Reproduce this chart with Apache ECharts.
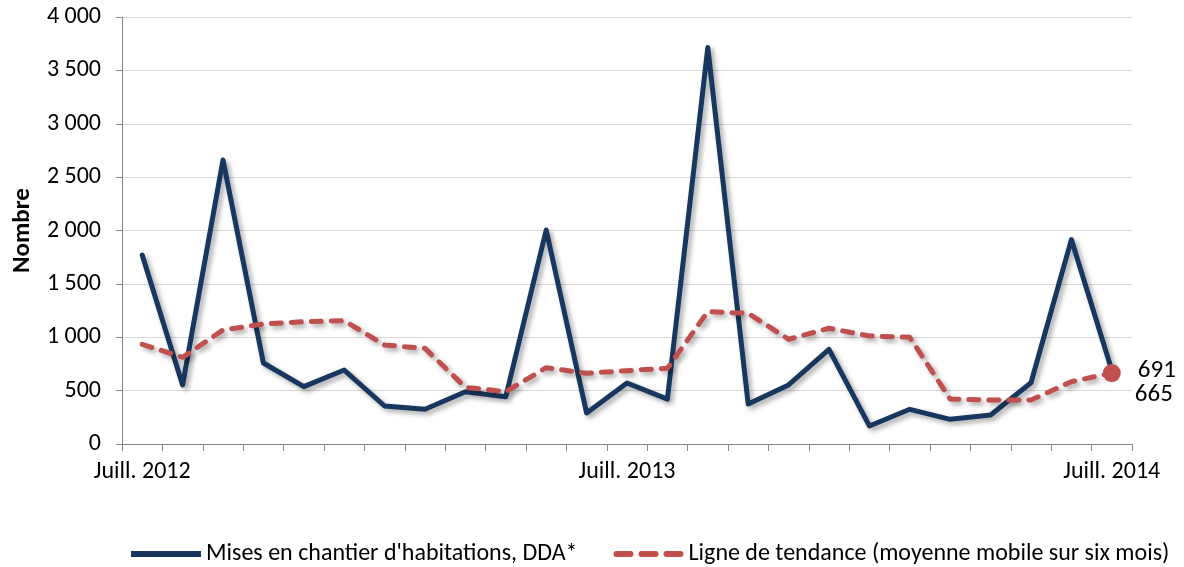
<!DOCTYPE html>
<html>
<head>
<meta charset="utf-8">
<script src="https://cdn.jsdelivr.net/npm/echarts@6/dist/echarts.min.js"></script>
<style>
  html, body { margin: 0; padding: 0; background: #fff; }
  #chart { width: 1184px; height: 567px; }
</style>
</head>
<body>
<div id="chart"></div>
<script>
// mois de juillet 2012 à juillet 2014
const months = [
  'Juill. 2012', 'Août 2012', 'Sept. 2012', 'Oct. 2012', 'Nov. 2012', 'Déc. 2012',
  'Janv. 2013', 'Févr. 2013', 'Mars 2013', 'Avr. 2013', 'Mai 2013', 'Juin 2013',
  'Juill. 2013', 'Août 2013', 'Sept. 2013', 'Oct. 2013', 'Nov. 2013', 'Déc. 2013',
  'Janv. 2014', 'Févr. 2014', 'Mars 2014', 'Avr. 2014', 'Mai 2014', 'Juin 2014',
  'Juill. 2014'
];

// mises en chantier, DDA
const starts = [
  1770, 553, 2660, 759, 537, 693, 356, 325, 490, 443, 2005, 290,
  571, 420, 3715, 375, 553, 887, 169, 325, 231, 272, 574, 1915, 691
];

// moyenne mobile sur six mois
const trend = [
  934, 812, 1068, 1124, 1146, 1155, 927, 896, 531, 490, 715, 662,
  687, 709, 1240, 1224, 981, 1084, 1012, 999, 421, 412, 412, 584, 665
];

const FONT = 'Carlito, Lato, sans-serif';
const BLUE = '#17375e';
const RED = '#c0504d';

const shadow = {
  shadowColor: 'rgba(0,0,0,0.35)',
  shadowBlur: 5,
  shadowOffsetX: 3,
  shadowOffsetY: 3
};

const NAME_1 = "Mises en chantier d'habitations, DDA*";
const NAME_2 = 'Ligne de tendance (moyenne mobile sur six mois)';

const last = months.length - 1;

const chart = echarts.init(document.getElementById('chart'), null, { renderer: 'canvas' });

chart.setOption({
  animation: false,
  textStyle: { fontFamily: FONT },
  grid: { left: 122, right: 52, top: 17, bottom: 123 },
  legend: {
    left: 126,
    top: 537,
    itemWidth: 70,
    itemHeight: 6,
    itemGap: 36,
    textStyle: { fontFamily: FONT, fontSize: 24, color: '#000' },
    data: [
      { name: NAME_1, icon: 'path://M0,0 H70 V6 H0 Z', itemStyle: { color: BLUE } },
      { name: NAME_2, icon: 'path://M3,0 H17 A3,3 0 0 1 17,6 H3 A3,3 0 0 1 3,0 Z M28,0 H42 A3,3 0 0 1 42,6 H28 A3,3 0 0 1 28,0 Z M53,0 H67 A3,3 0 0 1 67,6 H53 A3,3 0 0 1 53,0 Z', itemStyle: { color: RED } }
    ]
  },
  xAxis: {
    type: 'category',
    data: months,
    boundaryGap: true,
    axisLine: { lineStyle: { color: '#868686', width: 1 } },
    axisTick: { show: true, length: 7, interval: 0, lineStyle: { color: '#868686' } },
    axisLabel: {
      interval: (i) => i % 12 === 0,
      margin: 16,
      color: '#000',
      fontSize: 24,
      fontFamily: FONT
    },
    splitLine: { show: false }
  },
  yAxis: {
    type: 'value',
    min: 0,
    max: 4000,
    interval: 500,
    name: 'Nombre',
    nameLocation: 'middle',
    nameGap: 87,
    nameTextStyle: { fontFamily: FONT, fontSize: 25, fontWeight: 'bold', color: '#000' },
    axisLine: { show: true, lineStyle: { color: '#868686' } },
    axisTick: { show: true, length: 6, lineStyle: { color: '#868686' } },
    axisLabel: {
      margin: 21,
      color: '#000',
      fontSize: 24,
      fontFamily: FONT,
      formatter: (v) => String(v).replace(/\B(?=(\d{3})+(?!\d))/g, ' ')
    },
    splitLine: { lineStyle: { color: '#d9d9d9', width: 1 } }
  },
  series: [
    {
      name: NAME_1,
      type: 'line',
      symbol: 'none',
      z: 3,
      data: starts,
      endLabel: {
        show: true,
        formatter: '{c}',
        distance: 26,
        offset: [0, 1],
        fontSize: 25,
        fontFamily: FONT,
        color: '#000'
      },
      lineStyle: Object.assign({ color: BLUE, width: 5, join: 'round', cap: 'round' }, shadow),
      itemStyle: { color: BLUE }
    },
    {
      name: NAME_2,
      type: 'line',
      symbol: 'none',
      z: 4,
      data: trend.map((v, i) => i === last ? {
        value: v,
        symbol: 'circle',
        symbolSize: 18,
        itemStyle: { color: RED },
        label: {
          show: true,
          position: 'right',
          distance: 14,
          offset: [0, 22],
          fontSize: 25,
          fontFamily: FONT,
          color: '#000'
        }
      } : v),
      lineStyle: Object.assign({ color: RED, width: 5, type: [10, 10], cap: 'round', join: 'round' }, shadow),
      itemStyle: { color: RED }
    }
  ]
});
</script>
</body>
</html>
